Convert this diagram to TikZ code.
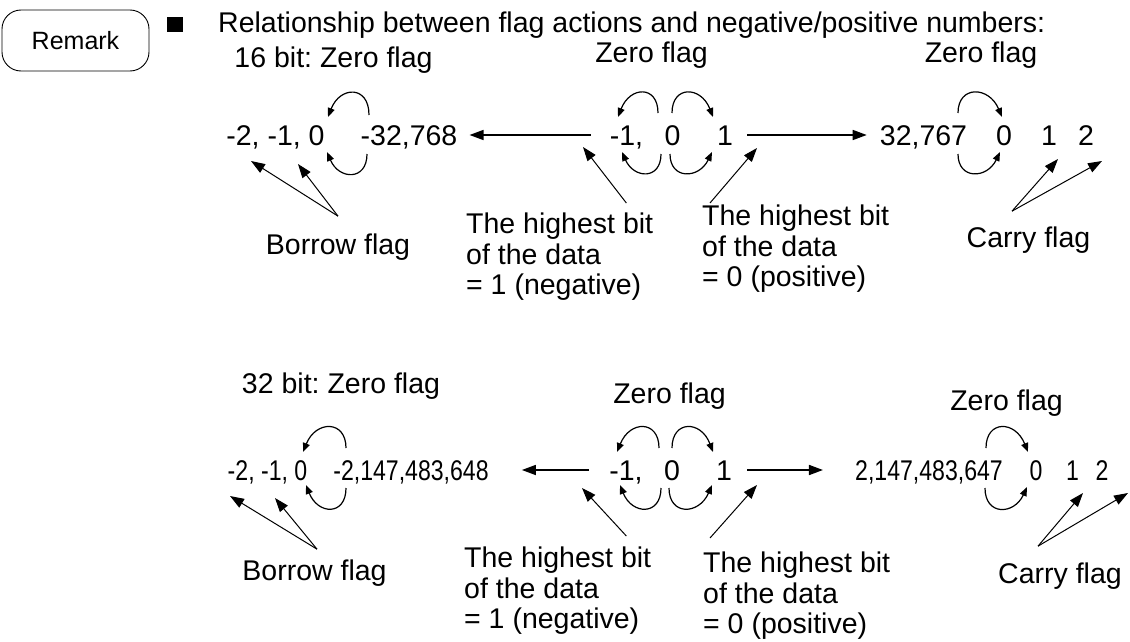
\documentclass[tikz,border=0pt]{standalone}
\usepackage{fontspec}
\setmainfont{Liberation Sans}
\newfontfamily\narrowfont[FakeStretch=0.81]{Liberation Sans}
\usetikzlibrary{positioning,arrows.meta}
\frenchspacing
\newcommand{\lblfont}{\fontsize{28.5}{30.5}\selectfont}
\tikzset{
  lbl/.style={inner sep=0pt, font=\lblfont, anchor=base},
  lblL/.style={lbl, align=left, anchor=north west},
  num/.style={lbl, text height=20pt, text depth=0pt},
  numN/.style={num, font=\lblfont\narrowfont},
  bigar/.style={-{Triangle[length=14pt,width=10pt]}, line width=1.6pt},
  ptr/.style={-{Triangle[length=14pt,width=10pt]}, line width=1pt},
  lp/.style={-{Triangle[length=9pt,width=7pt]}, line width=1.2pt}
}

\begin{document}
\begin{tikzpicture}[x=1pt, y=-1pt]
\useasboundingbox (0,0) rectangle (1130,642);
\node[draw, line width=0.9pt, rounded corners=19pt, minimum width=147pt, minimum height=61pt,
      inner sep=0pt, font=\fontsize{25}{28}\selectfont] (remark) at (75.5,40.5) {Remark};
\node[fill=black, minimum width=16pt, minimum height=15pt, inner sep=0pt] (bullet) at (175,24.5) {};
\node[lbl, anchor=base west] (title) at (218,33) {Relationship between flag actions and negative/positive numbers:};

% 16 bit
\node[lbl] (hd16) at (333.5,67) {16 bit: Zero flag};
\node[lbl] (zm16) at (651.5,63) {Zero flag};
\node[lbl] (zr16) at (981,63) {Zero flag};
\node[num] (lo16) at (275.5,145) {-2, -1, 0};
\node[num] (min16) at (409,145) {-32,768};
\node[num] (neg16) at (626.5,145) {-1,};
\node[num] (zero16) at (672.5,145) {0};
\node[num] (one16) at (725,145) {1};
\node[num] (max16) at (923.5,145) {32,767};
\node[num] (wz16) at (1004,145) {0};
\node[num] (w116) at (1049,145) {1};
\node[num] (w216) at (1086,145) {2};
\node[lbl] (bor16) at (338,254) {Borrow flag};
\node[lblL] (hin16) at (466,213) {The highest bit\\of the data\\= 1 (negative)};
\node[lblL] (hip16) at (702,205) {The highest bit\\of the data\\= 0 (positive)};
\node[lbl] (car16) at (1028.5,247) {Carry flag};
\coordinate (b16a) at (251,161);
\coordinate (b16b) at (298,164);
\coordinate (n16) at (583,147);
\coordinate (p16) at (757,148);
\coordinate (c16a) at (1058,159);
\coordinate (c16b) at (1102,161);

\draw[bigar] ([xshift=-19pt]neg16.west) -- ([xshift=12pt]min16.east);
\draw[bigar] ([xshift=14pt]one16.east) -- ([xshift=-13pt]max16.west);
\draw[ptr] ([yshift=17pt]bor16.north) -- (b16a);
\draw[ptr] ([yshift=17pt]bor16.north) -- (b16b);
\draw[ptr] ([xshift=-27pt,yshift=10pt]hin16.north east) -- (n16);
\draw[ptr] ([xshift=8pt,yshift=2pt]hip16.north west) -- (p16);
\draw[ptr] ([xshift=-16.5pt,yshift=15pt]car16.north) -- (c16a);
\draw[ptr] ([xshift=-16.5pt,yshift=15pt]car16.north) -- (c16b);
% zero flag loops
\draw[lp] (369,115) .. controls (369,85) and (340,86) .. (328,117);
\draw[lp] (367,154) .. controls (367,181) and (339,180) .. (327,152);
\draw[lp] (658,113) .. controls (658,85) and (630,86) .. (618,117);
\draw[lp] (672,113) .. controls (672,85) and (701,86) .. (713,117);
\draw[lp] (661,154) .. controls (661,180) and (634,179) .. (622,152);
\draw[lp] (670,154) .. controls (670,180) and (699,179) .. (712,152);
\draw[lp] (958,113) .. controls (958,85) and (989,86) .. (1002,117);
\draw[lp] (958,154) .. controls (958,180) and (987,179) .. (1000,152);

% 32 bit
\node[lbl] (hd32) at (341,393) {32 bit: Zero flag};
\node[lbl] (zm32) at (669.5,403) {Zero flag};
\node[lbl] (zr32) at (1006.5,410) {Zero flag};
\node[numN] (lo32) at (267.5,480) {-2, -1, 0};
\node[numN] (min32) at (411,480) {-2,147,483,648};
\node[num] (neg32) at (626,480) {-1,};
\node[num] (zero32) at (672,480) {0};
\node[num] (one32) at (724,480) {1};
\node[numN] (max32) at (929,480) {2,147,483,647};
\node[numN] (wz32) at (1036,480) {0};
\node[numN] (w132) at (1072.5,480) {1};
\node[numN] (w232) at (1102,480) {2};
\node[lbl] (bor32) at (314.5,580) {Borrow flag};
\node[lblL] (hin32) at (464,547) {The highest bit\\of the data\\= 1 (negative)};
\node[lblL] (hip32) at (703,552) {The highest bit\\of the data\\= 0 (positive)};
\node[lbl] (car32) at (1060,583) {Carry flag};
\coordinate (b32a) at (230,496);
\coordinate (b32b) at (275,498);
\coordinate (n32) at (582,488);
\coordinate (p32) at (757,485);
\coordinate (c32a) at (1083,493);
\coordinate (c32b) at (1128,493);

\draw[bigar] ([xshift=-20pt]neg32.west) -- ([xshift=33pt]min32.east);
\draw[bigar] ([xshift=15pt]one32.east) -- ([xshift=-32pt]max32.west);
\draw[ptr] ([xshift=2.5pt,yshift=10pt]bor32.north) -- (b32a);
\draw[ptr] ([xshift=2.5pt,yshift=10pt]bor32.north) -- (b32b);
\draw[ptr] ([xshift=-25pt,yshift=11pt]hin32.north east) -- (n32);
\draw[ptr] ([xshift=7pt,yshift=14pt]hip32.north west) -- (p32);
\draw[ptr] ([xshift=-22pt,yshift=16pt]car32.north) -- (c32a);
\draw[ptr] ([xshift=-22pt,yshift=16pt]car32.north) -- (c32b);
% zero flag loops
\draw[lp] (346,448) .. controls (346,420) and (316,420) .. (303,452);
\draw[lp] (346,488) .. controls (346,516) and (318,515) .. (306,485);
\draw[lp] (659,448) .. controls (659,420) and (630,420) .. (617,452);
\draw[lp] (672,448) .. controls (672,420) and (701,420) .. (713,452);
\draw[lp] (661,488) .. controls (661,516) and (632,515) .. (620,485);
\draw[lp] (669,488) .. controls (669,516) and (699,515) .. (712,485);
\draw[lp] (986,448) .. controls (986,420) and (1015,420) .. (1028,452);
\draw[lp] (985,488) .. controls (985,516) and (1014,515) .. (1027,487);
\end{tikzpicture}
\end{document}
